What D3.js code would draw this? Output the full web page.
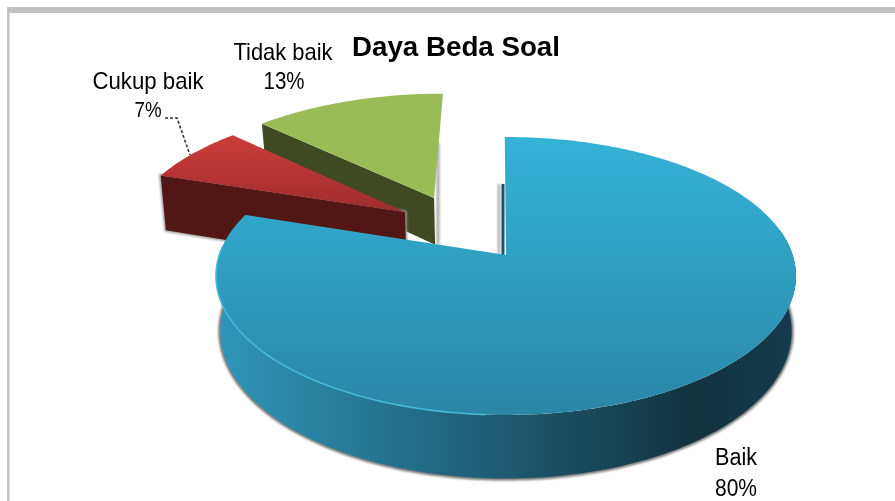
<!DOCTYPE html>
<html>
<head>
<meta charset="utf-8">
<script src="https://cdn.jsdelivr.net/npm/d3@7/dist/d3.min.js"></script>
<style>
html,body{margin:0;padding:0;background:#fff;overflow:hidden}
svg{display:block}
text{font-family:"Liberation Sans",Arial,sans-serif;fill:#000}
</style>
</head>
<body>
<svg id="c" width="895" height="501"></svg>
<script>
const categories = ["Baik", "Cukup baik", "Tidak baik"];
const values = [80, 7, 13];
const percentLabels = ["80%", "7%", "13%"];
const titleText = "Daya Beda Soal";

const W = 895, H = 501;
const apex = {x: 506, y: 255};
const persp = 0.151, Rx = 286.7, Ry = 135.8;
const explodeU = [0, -0.37, -0.268];
const explodeV = [0, -0.333, -0.448];
const depths = [54, 60, 50];
const lowerShrink = 0.015;

const svg = d3.select("#c");
const defs = svg.append("defs");

function linGrad(id, x1, y1, x2, y2, stops) {
  const g = defs.append("linearGradient").attr("id", id).attr("gradientUnits", "userSpaceOnUse")
    .attr("x1", x1).attr("y1", y1).attr("x2", x2).attr("y2", y2);
  stops.forEach(s => g.append("stop").attr("offset", s[0]).attr("stop-color", s[1]));
}
linGrad("topBlue", 0, 137, 0, 415, [[0, "#34b3d7"], [1, "#2a86a7"]]);
linGrad("wallBlue", 220, 0, 800, 0, [[0, "#2f96b9"], [0.3, "#24718d"], [0.58, "#1a4f62"], [0.82, "#12323f"], [1, "#143d4d"]]);
linGrad("topRed", 0, 138, 0, 212, [[0, "#cb3b3b"], [1, "#9e2c2c"]]);
defs.append("filter").attr("id", "soft").attr("x", "-10%").attr("y", "-10%").attr("width", "120%").attr("height", "120%")
  .append("feGaussianBlur").attr("stdDeviation", 1.2);
defs.append("filter").attr("id", "softLine").attr("filterUnits", "userSpaceOnUse").attr("x", 0).attr("y", 0).attr("width", W).attr("height", H)
  .append("feGaussianBlur").attr("stdDeviation", 0.8);
defs.append("filter").attr("id", "txt").attr("x", "-5%").attr("y", "-20%").attr("width", "110%").attr("height", "140%")
  .append("feGaussianBlur").attr("stdDeviation", 0.45);

const scaleU = d3.scaleLinear().domain([0, 1]).range([0, Rx]);
const scaleV = d3.scaleLinear().domain([0, 1]).range([0, Ry]);

function project(u, v, dz) {
  const w = 1 - persp * v;
  const shrink = dz ? 1 - lowerShrink : 1;
  return [apex.x + scaleU(u) * shrink / w, apex.y + (scaleV(v) + (dz || 0)) / w];
}
function rim(a, i, dz) {
  return project(Math.sin(a) + explodeU[i], -Math.cos(a) + explodeV[i], dz);
}
function centre(i, dz) { return project(explodeU[i], explodeV[i], dz); }
function arcPts(a0, a1, i, dz) {
  const n = Math.max(2, Math.ceil(Math.abs(a1 - a0) / 0.02));
  return d3.range(n + 1).map(k => rim(a0 + (a1 - a0) * k / n, i, dz));
}
const line = d3.line();
const closed = pts => line(pts) + "Z";

const slices = d3.pie().sort(null).startAngle(0).endAngle(2 * Math.PI)(values);

// frame
svg.append("rect").attr("x", 7).attr("y", 7).attr("width", W).attr("height", 6).attr("fill", "#c2c2c2");
svg.append("rect").attr("x", 7).attr("y", 7).attr("width", 2.5).attr("height", H).attr("fill", "#c2c2c2");

const pie = svg.append("g");

function flatWall(i, angle) {
  const d = depths[i];
  return closed([rim(angle, i, 0), centre(i, 0), centre(i, d), rim(angle, i, d)]);
}

// Tidak baik (green)
const sT = slices[2];
const greenApex = centre(2, 0), greenLow = centre(2, depths[2]);
pie.append("line").attr("x1", greenApex[0] + 4).attr("y1", greenApex[1] - 55).attr("x2", greenApex[0] + 4).attr("y2", greenLow[1])
  .attr("stroke", "#a8a8a8").attr("stroke-width", 3).attr("filter", "url(#softLine)");
pie.append("path").attr("d", flatWall(2, sT.startAngle)).attr("fill", "#3f4a22");
pie.append("path").attr("d", closed([centre(2, 0), ...arcPts(sT.startAngle, sT.endAngle, 2, 0)])).attr("fill", "#9bbb59");

// Cukup baik (red)
const sC = slices[1];
pie.append("path").attr("d", flatWall(1, sC.startAngle)).attr("fill", "#888").attr("stroke", "#999").attr("stroke-width", 3).attr("filter", "url(#soft)");
pie.append("path").attr("d", flatWall(1, sC.startAngle)).attr("fill", "#521714");
pie.append("path").attr("d", closed([centre(1, 0), ...arcPts(sC.startAngle, sC.endAngle, 1, 0)])).attr("fill", "url(#topRed)");

// Baik (blue)
const sB = slices[0];
const frontStart = Math.PI * 0.44, frontEnd = sB.endAngle;
const outerTop = arcPts(frontStart, frontEnd, 0, 0);
const outerLow = arcPts(frontEnd, frontStart, 0, depths[0]);
pie.append("path").attr("d", line(arcPts(frontStart, Math.PI * 1.55, 0, depths[0])))
  .attr("fill", "none").attr("stroke", "#777").attr("stroke-width", 4).attr("filter", "url(#soft)");
pie.append("path").attr("d", closed([...outerTop, ...outerLow])).attr("fill", "url(#wallBlue)");

// inner cut face at the start of the big slice
const cutTop = project(0, -1, depths[0]);
pie.append("line").attr("x1", apex.x - 7).attr("y1", cutTop[1]).attr("x2", apex.x - 7).attr("y2", apex.y)
  .attr("stroke", "#aaa").attr("stroke-width", 2.5).attr("filter", "url(#softLine)");
pie.append("line").attr("x1", apex.x - 3).attr("y1", cutTop[1]).attr("x2", apex.x - 3).attr("y2", apex.y)
  .attr("stroke", "#17566c").attr("stroke-width", 3);
pie.append("path").attr("d", closed([centre(0, 0), ...arcPts(sB.startAngle - 0.005, sB.endAngle, 0, 0)])).attr("fill", "url(#topBlue)");
pie.append("path").attr("d", line(arcPts(Math.PI * 1.02, Math.PI * 1.52, 0, 0)))
  .attr("fill", "none").attr("stroke", "#46b9da").attr("stroke-width", 1.6);

// leader line
const leader = [[165, 118], [177, 118], [190, 155]];
svg.append("path").attr("d", line(leader)).attr("fill", "none").attr("stroke", "#333").attr("stroke-width", 1.6).attr("stroke-dasharray", "3 2");

// text
const labels = svg.append("g").attr("filter", "url(#txt)");
function put(str, cx, base, size, width, weight) {
  labels.append("text").attr("x", cx).attr("y", base).attr("text-anchor", "middle")
    .attr("font-size", size).attr("font-weight", weight || "normal")
    .attr("textLength", width).attr("lengthAdjust", "spacingAndGlyphs").text(str);
}
put(titleText, 456, 56, 28, 208, "bold");
put(categories[2], 283, 60, 24, 99);
put(percentLabels[2], 284, 89, 23, 41);
put(categories[1], 148, 89, 24, 111);
put(percentLabels[1], 148, 117, 22, 27);
put(categories[0], 736, 465, 23, 42);
put(percentLabels[0], 736, 496, 24, 42);
</script>
</body>
</html>
